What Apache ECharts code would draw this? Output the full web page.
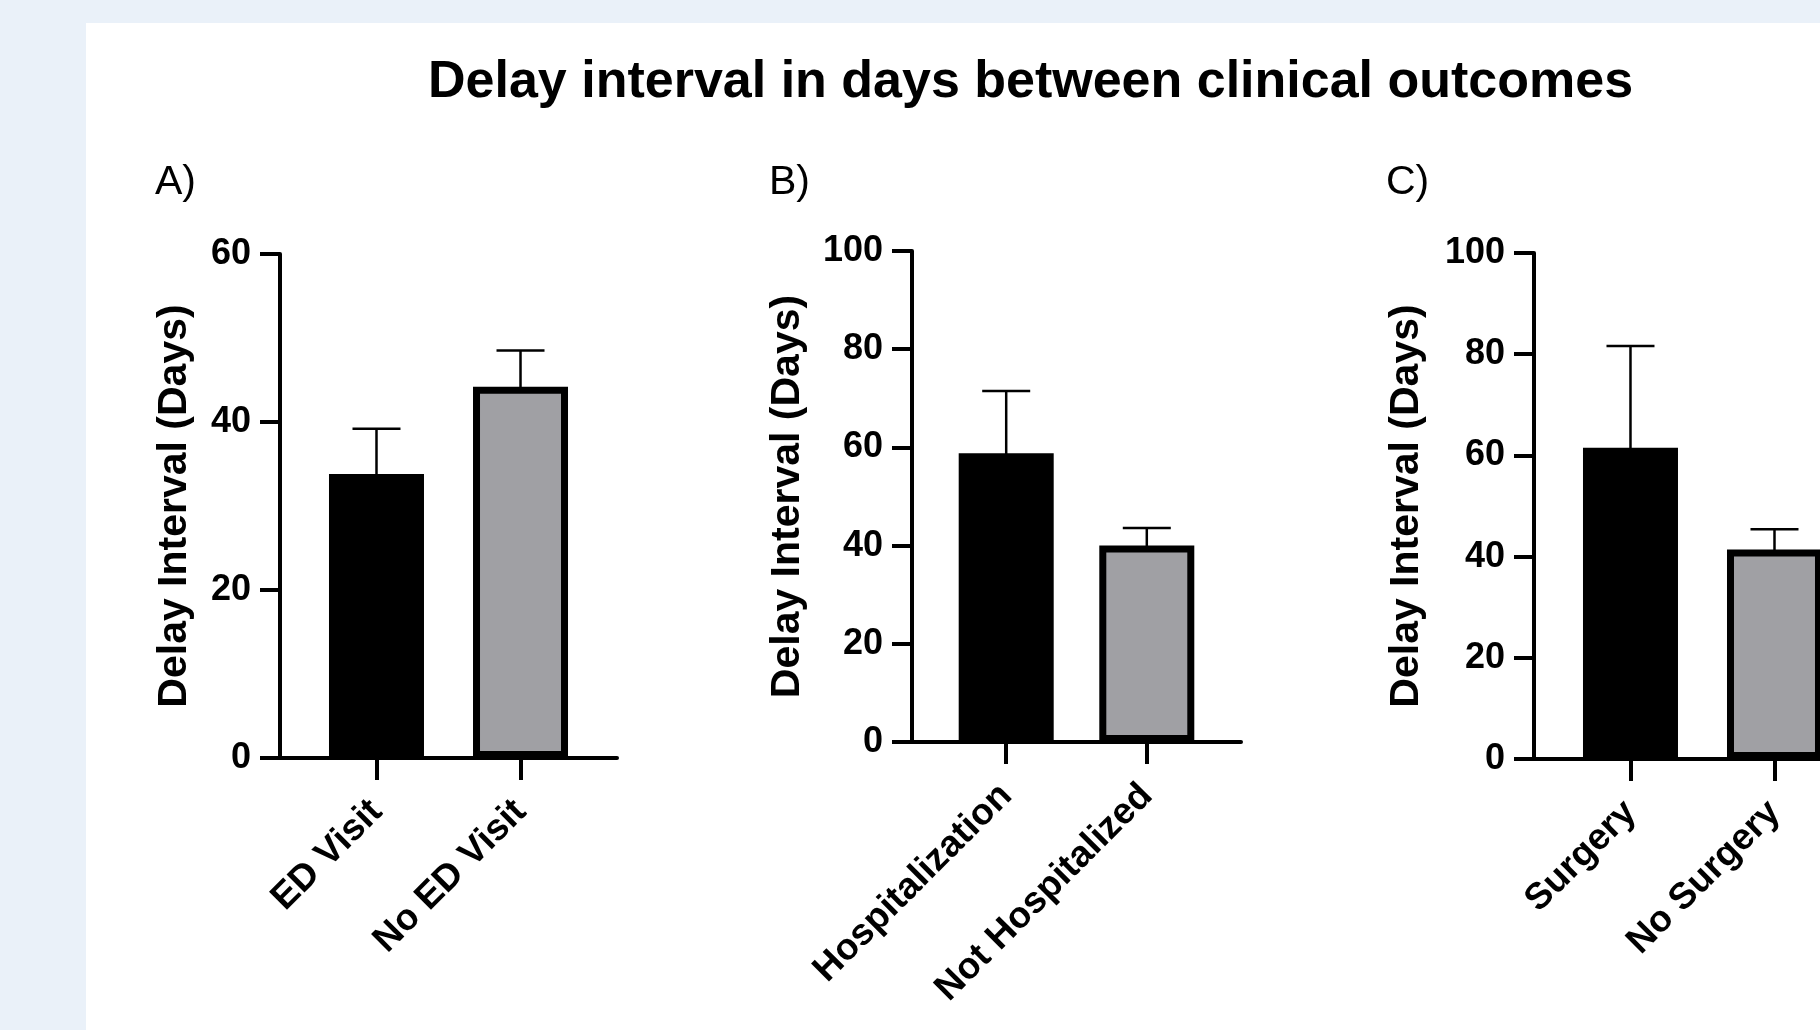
<!DOCTYPE html>
<html>
<head>
<meta charset="utf-8">
<script src="https://cdn.jsdelivr.net/npm/echarts@6/dist/echarts.min.js"></script>
<style>
  html, body { margin: 0; padding: 0; background: #EAF1F9; }
  #panel { position: absolute; left: 86px; top: 23px; width: 1734px; height: 1007px; background: #ffffff; }
  #chart { position: absolute; left: 0; top: 0; width: 1820px; height: 1030px; }
</style>
</head>
<body>
<div id="panel"></div>
<div id="chart"></div>
<script>
// ---- data ----
const chartTitle = 'Delay interval in days between clinical outcomes';
const panelLetters = ['A)', 'B)', 'C)'];
const yAxisName = 'Delay Interval (Days)';

const catsA = ['ED Visit', 'No ED Visit'];
const meanA = [33.8, 44.2];
const upperA = [39.2, 48.5];
const yMaxA = 60;

const catsB = ['Hospitalization', 'Not Hospitalized'];
const meanB = [58.8, 40.0];
const upperB = [71.5, 43.6];
const yMaxB = 100;

const catsC = ['Surgery', 'No Surgery'];
const meanC = [61.5, 41.4];
const upperC = [81.6, 45.4];
const yMaxC = 100;

const yInterval = 20;
const barColors = ['#000000', '#A0A0A4'];

// ---- build ----
const FONT = '"Liberation Sans", Arial, Helvetica, sans-serif';
// panel C is cut off by the right edge of the picture, so its x range ends early
const panels = [
  { cats: catsA, mean: meanA, upper: upperA, ymax: yMaxA, xmax: 1.67, nameGap: 85, grid: { left: 280, top: 254, width: 337, height: 504 } },
  { cats: catsB, mean: meanB, upper: upperB, ymax: yMaxB, xmax: 1.67, nameGap: 104, grid: { left: 912, top: 251, width: 329, height: 491 } },
  { cats: catsC, mean: meanC, upper: upperC, ymax: yMaxC, xmax: 1.316, nameGap: 107, grid: { left: 1534, top: 253, width: 286, height: 506 } }
];

const grids = [], xAxes = [], yAxes = [], series = [];
panels.forEach((p, i) => {
  grids.push(Object.assign({ containLabel: false }, p.grid));
  const cats = p.cats;
  xAxes.push({
    type: 'value', gridIndex: i, min: -0.67, max: p.xmax,
    splitLine: { show: false },
    axisLine: { show: true, onZero: false, lineStyle: { color: '#000', width: 4 } },
    axisTick: { show: true, customValues: [0, 1], length: 22, lineStyle: { color: '#000', width: 4 } },
    axisLabel: {
      show: true, customValues: [0, 1], rotate: 45, margin: 48,
      formatter: v => cats[Math.round(v)] || '',
      color: '#000', fontFamily: FONT, fontWeight: 'bold', fontSize: 37
    }
  });
  yAxes.push({
    type: 'value', gridIndex: i, min: 0, max: p.ymax, interval: yInterval,
    name: yAxisName, nameLocation: 'middle', nameGap: p.nameGap, nameMoveOverlap: false,
    nameTextStyle: { color: '#000', fontFamily: FONT, fontWeight: 'bold', fontSize: 41 },
    splitLine: { show: false },
    axisLine: { show: true, onZero: false, lineStyle: { color: '#000', width: 4 } },
    axisTick: { show: true, length: 20, lineStyle: { color: '#000', width: 4 } },
    axisLabel: { margin: 29, color: '#000', fontFamily: FONT, fontWeight: 'bold', fontSize: 36 }
  });
  series.push({
    type: 'bar', xAxisIndex: i, yAxisIndex: i, barWidth: 95,
    data: p.mean.map((m, k) => ({
      value: [k, m],
      itemStyle: { color: barColors[k], borderColor: '#000', borderWidth: 7 }
    })),
    z: 2
  });
  series.push({
    type: 'custom', xAxisIndex: i, yAxisIndex: i, z: 3,
    data: p.mean.map((m, k) => [k, m, p.upper[k]]),
    renderItem: (params, api) => {
      const x = api.value(0);
      const lo = api.coord([x, api.value(1)]);
      const hi = api.coord([x, api.value(2)]);
      const st = { stroke: '#000', lineWidth: 2.5 };
      return {
        type: 'group', children: [
          { type: 'line', shape: { x1: lo[0], y1: lo[1] + 3, x2: hi[0], y2: hi[1] }, style: st },
          { type: 'line', shape: { x1: hi[0] - 24, y1: hi[1], x2: hi[0] + 24, y2: hi[1] }, style: st }
        ]
      };
    }
  });
});

const titles = [{
  text: chartTitle, left: 428, top: 57, padding: 0,
  textStyle: { color: '#000', fontFamily: FONT, fontWeight: 'bold', fontSize: 52 }
}];
const letterLeft = [155, 769, 1386];
panelLetters.forEach((t, i) => titles.push({
  text: t, left: letterLeft[i], top: 162, padding: 0,
  textStyle: { color: '#000', fontFamily: FONT, fontWeight: 'normal', fontSize: 41 }
}));

const chart = echarts.init(document.getElementById('chart'), null, { renderer: 'canvas' });
chart.setOption({
  backgroundColor: 'transparent',
  animation: false,
  title: titles,
  grid: grids,
  xAxis: xAxes,
  yAxis: yAxes,
  series: series
});
</script>
</body>
</html>
